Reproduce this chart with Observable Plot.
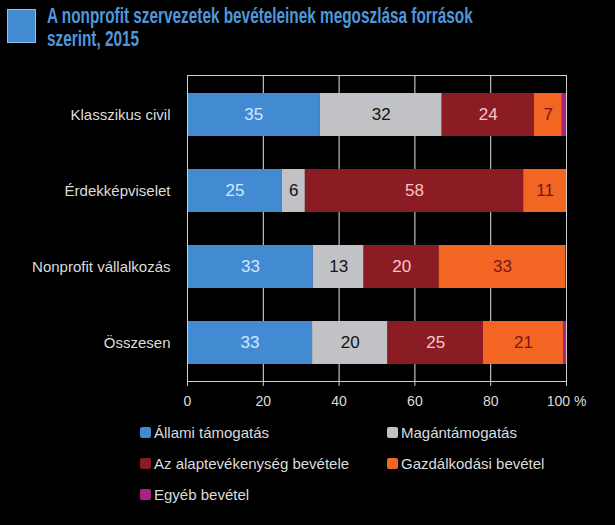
<!DOCTYPE html>
<html>
<head>
<meta charset="utf-8">
<script src="https://cdn.jsdelivr.net/npm/d3@7"></script>
<script src="https://cdn.jsdelivr.net/npm/@observablehq/plot@0.6"></script>
<style>
  html, body { margin: 0; padding: 0; background: #000; }
  body { width: 615px; height: 525px; overflow: hidden; font-family: "Liberation Sans", Arial, sans-serif; }
  #title { position: relative; height: 60px; }
  #title .sq { position: absolute; left: 7px; top: 9px; width: 29px; height: 34px; background: #428bd3; border: 1px solid #8fbfea; box-sizing: border-box; }
  #title .line { position: absolute; left: 47px; font-family: "Liberation Sans", Arial, sans-serif; font-weight: bold; font-size: 22px; line-height: 22px; color: #4f97dc; white-space: nowrap; transform-origin: 0 0; }
  #chart { display: block; }
  #legend { position: relative; height: 109px; color: #dcdcdc; font-size: 15px; }
  .item { position: absolute; display: flex; align-items: center; white-space: nowrap; }
  .sw { width: 11px; height: 11px; margin-right: 3px; border-radius: 2px; }
</style>
</head>
<body>
<div id="title"><div class="sq"></div>
  <div class="line" id="t1" style="top:5px">A nonprofit szervezetek bevételeinek megoszlása források</div>
  <div class="line" id="t2" style="top:28px">szerint, 2015</div>
</div>
<div id="chart"></div>
<div id="legend"></div>
<script>
const categories = ["Klasszikus civil", "Érdekképviselet", "Nonprofit vállalkozás", "Összesen"];
const seriesNames = ["Állami támogatás", "Magántámogatás", "Az alaptevékenység bevétele", "Gazdálkodási bevétel", "Egyéb bevétel"];
const allami = [35.0, 25.0, 33.2, 33.0];
const magan = [32.2, 6.1, 13.4, 19.9];
const alap = [24.3, 57.6, 19.8, 25.2];
const gazd = [7.4, 11.3, 33.4, 21.1];
const egyeb = [1.1, 0, 0.2, 0.8];
const xTicks = [0, 20, 40, 60, 80, 100];
const gridTicks = [20, 40, 60, 80];

const colors = ["#428bd3", "#c0c2c6", "#8c1c24", "#f26522", "#a8237f"];
const labelColors = ["#cfe8ff", "#111111", "#f7c6c6", "#7a1518", "#ffffff"];
const seriesValues = [allami, magan, alap, gazd, egyeb];

// condense title lines to reference width
const t1 = document.getElementById("t1");
const t2 = document.getElementById("t2");
const k = 426 / t1.scrollWidth;
t1.style.transform = `scaleX(${k})`;
t2.style.transform = `scaleX(${k})`;

const data = [];
categories.forEach((c, i) => {
  seriesNames.forEach((s, j) => {
    data.push({cat: c, series: s, si: j, value: seriesValues[j][i]});
  });
});

const plot = Plot.plot({
  width: 615,
  height: 356,
  marginTop: 15,
  marginLeft: 187,
  marginRight: 49,
  marginBottom: 35,
  style: {background: "#000", color: "#dcdcdc", fontFamily: "Liberation Sans, Arial, sans-serif"},
  x: {domain: [0, 100], axis: null, label: null},
  y: {domain: categories, paddingInner: 0.44, paddingOuter: 0.22, axis: null, label: null},
  color: {domain: seriesNames, range: colors},
  marks: [
    Plot.ruleX(gridTicks, {stroke: "#e6e6e6", strokeWidth: 1}),
    Plot.barX(data, Plot.stackX({x: "value", y: "cat", fill: "series", order: "si", inset: 0})),
    Plot.text(data.filter(d => d.value >= 5), Plot.stackX({
      x: "value", y: "cat", order: "si",
      text: d => String(Math.round(d.value)),
      fill: d => labelColors[d.si],
      fontSize: 17
    })),
    Plot.frame({stroke: "#d0d0d0", strokeWidth: 1}),
    Plot.axisX(xTicks, {
      tickSize: 5, tickPadding: 10, fontSize: 14, stroke: "#d0d0d0", fill: "#dcdcdc", label: null,
      tickFormat: d => d === 100 ? "100 %" : String(d)
    }),
    Plot.axisY({tickSize: 0, tickPadding: 17, fontSize: 15, fill: "#dcdcdc", label: null})
  ]
});
document.getElementById("chart").appendChild(plot);

const legend = document.getElementById("legend");
const pos = [
  {left: 140, top: 8}, {left: 387, top: 8},
  {left: 140, top: 39}, {left: 387, top: 39},
  {left: 140, top: 70}
];
seriesNames.forEach((s, j) => {
  const it = document.createElement("div");
  it.className = "item";
  it.style.left = pos[j].left + "px";
  it.style.top = pos[j].top + "px";
  const sw = document.createElement("div");
  sw.className = "sw";
  sw.style.background = colors[j];
  const t = document.createElement("span");
  t.textContent = s;
  it.appendChild(sw);
  it.appendChild(t);
  legend.appendChild(it);
});
</script>
</body>
</html>
